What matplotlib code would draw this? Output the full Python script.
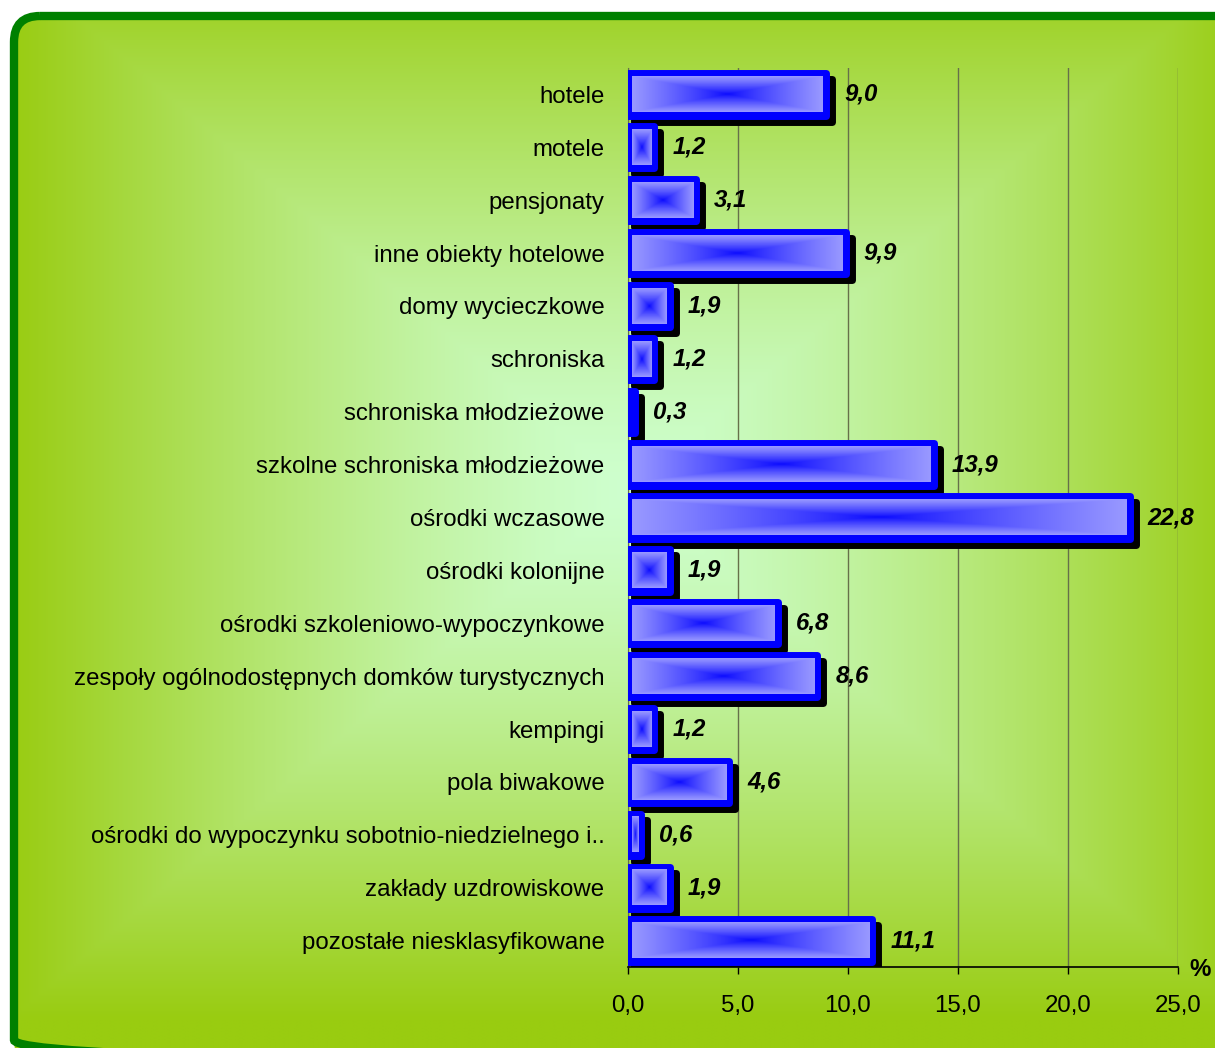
import numpy as np
import matplotlib.pyplot as plt
from matplotlib.patches import FancyBboxPatch
from matplotlib.transforms import ScaledTranslation

plt.rcParams['font.family'] = ['Liberation Sans', 'DejaVu Sans']

# data
kategorie = ['hotele', 'motele', 'pensjonaty', 'inne obiekty hotelowe',
             'domy wycieczkowe', 'schroniska', 'schroniska młodzieżowe',
             'szkolne schroniska młodzieżowe', 'ośrodki wczasowe',
             'ośrodki kolonijne', 'ośrodki szkoleniowo-wypoczynkowe',
             'zespoły ogólnodostępnych domków turystycznych', 'kempingi',
             'pola biwakowe',
             'ośrodki do wypoczynku sobotnio-niedzielnego i..',
             'zakłady uzdrowiskowe', 'pozostałe niesklasyfikowane']
wartosci = [9.0, 1.2, 3.1, 9.9, 1.9, 1.2, 0.3, 13.9, 22.8, 1.9, 6.8, 8.6,
            1.2, 4.6, 0.6, 1.9, 11.1]
xticks = [0, 5, 10, 15, 20, 25]

W, H, DPI = 1215, 1048, 100
fig = plt.figure(figsize=(W / DPI, H / DPI), dpi=DPI)
fs = 17.3

# background panel with rectangular gradient
bg = fig.add_axes([0, 0, 1, 1])
bg.set_xlim(0, W)
bg.set_ylim(H, 0)
bg.axis('off')
cx, cy, hw, hh = 630, 490, 620, 530
xx, yy = np.meshgrid(np.linspace(0, W, 400), np.linspace(0, H, 350))
t = np.clip(np.maximum(np.abs(xx - cx) / hw, np.abs(yy - cy) / hh), 0, 1) ** 1.35
c0 = np.array([206, 255, 206]) / 255
c1 = np.array([153, 204, 17]) / 255
img = c0 + (c1 - c0) * t[..., None]
im = bg.imshow(img, extent=[0, W, H, 0], aspect='auto', interpolation='bilinear')
panel = FancyBboxPatch((14, 16), 1230, 1050, boxstyle='round,pad=0,rounding_size=26',
                       facecolor='none', edgecolor='#008000', linewidth=6)
bg.add_patch(panel)
im.set_clip_path(panel)

# main axes
L, R, T, B = 628, 1178, 68, 967
ax = fig.add_axes([L / W, 1 - B / H, (R - L) / W, (B - T) / H])
ax.patch.set_visible(False)
y = np.arange(len(kategorie))
ppx = (R - L) / 25.0
ppy = (B - T) / len(kategorie)

lw = 5.0
shadow = ScaledTranslation(6 / DPI, -6 / DPI, fig.dpi_scale_trans)
ax.barh(y, wartosci, height=0.8, color='black', edgecolor='black', linewidth=lw,
        joinstyle='round', transform=ax.transData + shadow, zorder=3)
ax.barh(y, wartosci, height=0.8, color='#0000ff', edgecolor='#0000ff', linewidth=lw,
        joinstyle='round', zorder=4)

# gradient fill in each bar
dark = np.array([10, 10, 255]) / 255
light = np.array([153, 153, 255]) / 255
u = np.linspace(-1, 1, 240)
v = np.linspace(-1, 1, 60)
uu, vv = np.meshgrid(u, v)
g = np.maximum(np.abs(uu), np.abs(vv)) ** 0.85
grad = dark + (light - dark) * g[..., None]
hx = 3.5 / ppx
hy = 0.4 - 3.5 / ppy
for yi, val in zip(y, wartosci):
    x0, x1 = hx, val - hx
    if x1 <= x0:
        continue
    ax.imshow(grad, extent=[x0, x1, yi + hy, yi - hy], aspect='auto',
              interpolation='bilinear', zorder=5)

# value labels
for yi, val in zip(y, wartosci):
    ax.annotate(f'{val:.1f}'.replace('.', ','), (val, yi), xytext=(13, 0),
                textcoords='offset points', va='center', ha='left',
                fontsize=fs, fontweight='bold', fontstyle='italic', zorder=6)

ax.set_xlim(0, 25)
ax.set_ylim(len(kategorie) - 0.5, -0.5)
ax.set_xticks(xticks)
ax.set_xticklabels([f'{v:.1f}'.replace('.', ',') for v in xticks], fontsize=fs)
ax.set_yticks(y)
ax.set_yticklabels(kategorie, fontsize=fs)
ax.tick_params(axis='y', length=0, pad=17)
ax.tick_params(axis='x', direction='out', length=5, width=1, pad=15)
ax.grid(axis='x', color='#66704a', linewidth=1, zorder=1)
ax.set_axisbelow(True)
for s in ['top', 'right']:
    ax.spines[s].set_visible(False)
ax.spines['left'].set_color('#66704a')
ax.spines['bottom'].set_color('black')
ax.spines['bottom'].set_linewidth(1.2)

fig.text(1200 / W, 1 - 970 / H, '%', fontsize=fs, fontweight='bold',
         ha='center', va='center')

fig.savefig('out.png', dpi=DPI)
